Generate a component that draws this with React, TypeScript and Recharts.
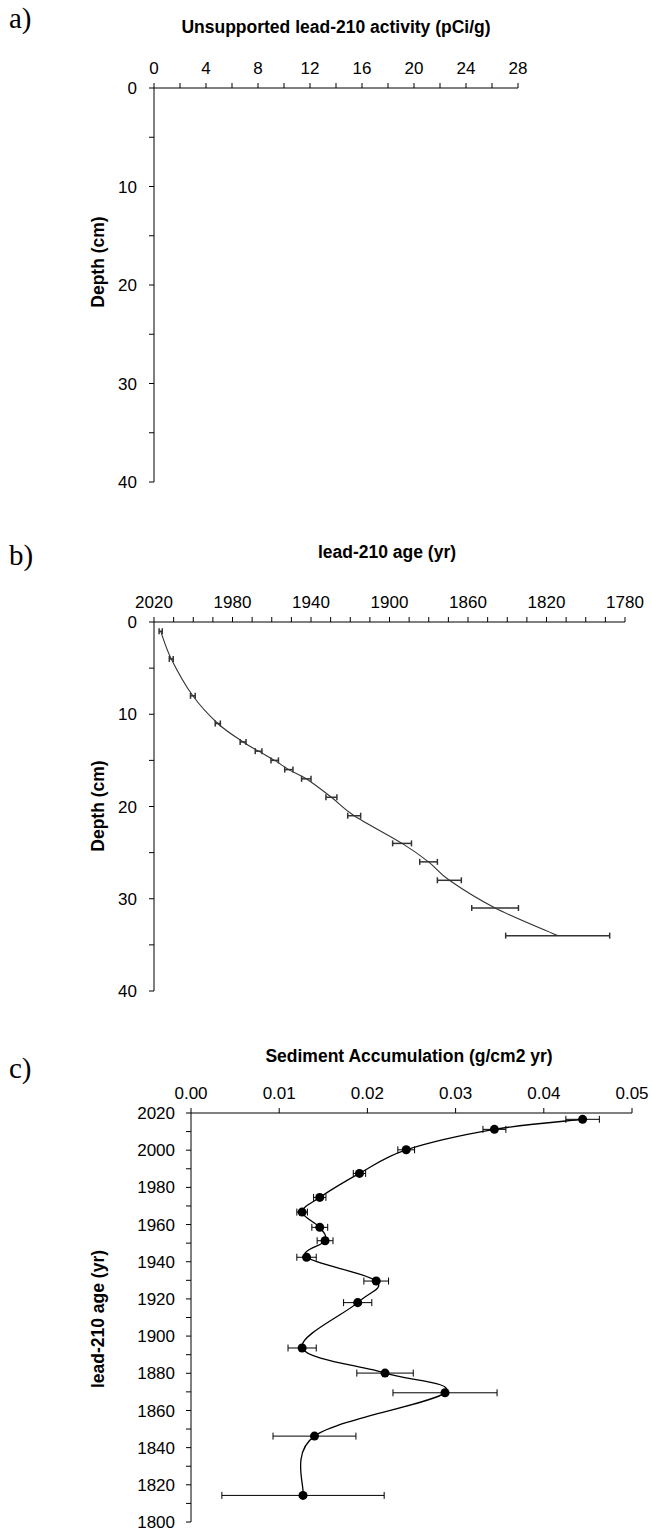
import React from 'react';
import { ScatterChart, Scatter, XAxis, YAxis, ErrorBar } from 'recharts';

// lead-210 ages of the core slices (yr), shared by panels b and c
const ages = [2016.6, 2011.2, 2000.2, 1987.5, 1974.6, 1966.7, 1958.5, 1951.3, 1942.4, 1929.6, 1918.0, 1893.6, 1880.1, 1869.5, 1846.2, 1814.3];
const depths = [1, 4, 8, 11, 13, 14, 15, 16, 17, 19, 21, 24, 26, 28, 31, 34];
const ageErr = [0.8, 1, 1.2, 1.3, 1.5, 1.7, 1.9, 2.1, 2.4, 2.8, 3.3, 4.8, 4.5, 6.1, 11.9, 26.5];
const rates = [0.0444, 0.0344, 0.0244, 0.0191, 0.0146, 0.0126, 0.0146, 0.0152, 0.0131, 0.021, 0.0189, 0.0126, 0.022, 0.0288, 0.014, 0.0127];
const rateErr = [0.0019, 0.0013, 0.00095, 0.0007, 0.0007, 0.0006, 0.0009, 0.0009, 0.0011, 0.0014, 0.0016, 0.0016, 0.0032, 0.0059, 0.0047, 0.0092];
// panel a has no measured activity values plotted
const activity: (number | null)[] = [];

// axis ticks
const activityTicks = [0, 2, 4, 6, 8, 10, 12, 14, 16, 18, 20, 22, 24, 26, 28];
const activityLabels = [0, 4, 8, 12, 16, 20, 24, 28];
const depthTicks = [0, 5, 10, 15, 20, 25, 30, 35, 40];
const depthLabels = [0, 10, 20, 30, 40];
const ageTicks = [1780, 1790, 1800, 1810, 1820, 1830, 1840, 1850, 1860, 1870, 1880, 1890, 1900, 1910, 1920, 1930, 1940, 1950, 1960, 1970, 1980, 1990, 2000, 2010, 2020];
const ageLabels = [2020, 1980, 1940, 1900, 1860, 1820, 1780];
const rateTicks = [0, 0.01, 0.02, 0.03, 0.04, 0.05];
const yearTicks = [1800, 1810, 1820, 1830, 1840, 1850, 1860, 1870, 1880, 1890, 1900, 1910, 1920, 1930, 1940, 1950, 1960, 1970, 1980, 1990, 2000, 2010, 2020];
const yearLabels = [1800, 1820, 1840, 1860, 1880, 1900, 1920, 1940, 1960, 1980, 2000, 2020];

const FONT = '"Liberation Sans", Arial, sans-serif';
const TICK_SIZE = 17;

const ageDepth = ages.map((age, i) => ({ age, depth: depths[i], err: ageErr[i] }));
const rateAge = ages.map((age, i) => ({ rate: rates[i], age, err: rateErr[i] }));
const activityDepth = depths.map((depth, i) => ({ depth, activity: activity[i] ?? null }));

// Excel-like smoothed line (Catmull-Rom as cubic Bezier)
function smoothCurve(context: any) {
  let pts: number[][] = [];
  return {
    areaStart() {},
    areaEnd() {},
    lineStart() {
      pts = [];
    },
    point(x: number, y: number) {
      pts.push([+x, +y]);
    },
    lineEnd() {
      if (!pts.length) return;
      context.moveTo(pts[0][0], pts[0][1]);
      for (let i = 0; i < pts.length - 1; i++) {
        const p0 = pts[i - 1] || pts[i];
        const p1 = pts[i];
        const p2 = pts[i + 1];
        const p3 = pts[i + 2] || p2;
        context.bezierCurveTo(
          p1[0] + (p2[0] - p0[0]) / 6,
          p1[1] + (p2[1] - p0[1]) / 6,
          p2[0] - (p3[0] - p1[0]) / 6,
          p2[1] - (p3[1] - p1[1]) / 6,
          p2[0],
          p2[1],
        );
      }
    },
  };
}

const isLabel = (labels: number[], v: number) => labels.some((l) => Math.abs(l - v) < 1e-9);

const topTick = (labels: number[], fmt: (v: number) => string) => (props: any) => {
  const { x, y, payload } = props;
  if (!isLabel(labels, payload.value)) return <g />;
  return (
    <text x={x} y={y} textAnchor="middle" fontSize={TICK_SIZE} fontFamily={FONT} fill="#000">
      {fmt(payload.value)}
    </text>
  );
};

const leftTick = (labels: number[]) => (props: any) => {
  const { x, y, payload } = props;
  if (!isLabel(labels, payload.value)) return <g />;
  return (
    <text x={x} y={y} dy="0.36em" textAnchor="end" fontSize={TICK_SIZE} fontFamily={FONT} fill="#000">
      {payload.value}
    </text>
  );
};

const axisStyle = { stroke: '#000', strokeWidth: 1 };

function Text({ x, y, text, rotate, size = 17.5 }: any) {
  return (
    <div
      style={{
        position: 'absolute',
        left: x,
        top: y,
        transform: `translate(-50%, -50%)${rotate ? ' rotate(-90deg)' : ''}`,
        fontFamily: FONT,
        fontWeight: 'bold',
        fontSize: size,
        whiteSpace: 'nowrap',
        color: '#000',
      }}
    >
      {text}
    </div>
  );
}

function Letter({ y, text }: any) {
  return (
    <div
      style={{
        position: 'absolute',
        left: 9,
        top: y,
        fontFamily: '"Liberation Serif", "Times New Roman", serif',
        fontSize: 29,
        lineHeight: '29px',
        color: '#000',
      }}
    >
      {text}
    </div>
  );
}

export default function App() {
  return (
    <div style={{ position: 'absolute', left: 0, top: 0, width: 652, height: 1533, background: '#fff' }}>
      {/* a) */}
      <Letter y={4} text="a)" />
      <Text x={336} y={27} text="Unsupported lead-210 activity (pCi/g)" />
      <Text x={98} y={262} text="Depth (cm)" rotate />
      <div style={{ position: 'absolute', left: 0, top: 0 }}>
        <ScatterChart width={652} height={500} margin={{ top: 58, left: 114, right: 134, bottom: 18 }}>
          <XAxis
            type="number"
            dataKey="activity"
            orientation="top"
            domain={[0, 28]}
            allowDataOverflow
            ticks={activityTicks}
            interval={0}
            height={30}
            tickSize={5}
            tickMargin={9}
            axisLine={axisStyle}
            tickLine={axisStyle}
            tick={topTick(activityLabels, (v) => String(v))}
          />
          <YAxis
            type="number"
            dataKey="depth"
            domain={[0, 40]}
            allowDataOverflow
            reversed
            ticks={depthTicks}
            interval={0}
            width={40}
            tickSize={5}
            tickMargin={12}
            axisLine={axisStyle}
            tickLine={axisStyle}
            tick={leftTick(depthLabels)}
          />
          <Scatter data={activityDepth} isAnimationActive={false} shape={() => <g />} />
        </ScatterChart>
      </div>

      {/* b) */}
      <Letter y={541} text="b)" />
      <Text x={387} y={552} text="lead-210 age (yr)" />
      <Text x={98} y={806} text="Depth (cm)" rotate />
      <div style={{ position: 'absolute', left: 0, top: 520 }}>
        <ScatterChart width={652} height={490} margin={{ top: 72, left: 114, right: 27, bottom: 19 }}>
          <XAxis
            type="number"
            dataKey="age"
            orientation="top"
            domain={[1780, 2020]}
            reversed
            ticks={ageTicks}
            interval={0}
            height={30}
            tickSize={5}
            tickMargin={9}
            axisLine={axisStyle}
            tickLine={axisStyle}
            tick={topTick(ageLabels, (v) => String(v))}
          />
          <YAxis
            type="number"
            dataKey="depth"
            domain={[0, 40]}
            reversed
            ticks={depthTicks}
            interval={0}
            width={40}
            tickSize={5}
            tickMargin={12}
            axisLine={axisStyle}
            tickLine={axisStyle}
            tick={leftTick(depthLabels)}
          />
          <Scatter
            data={ageDepth}
            isAnimationActive={false}
            line={{ stroke: '#333', strokeWidth: 1.1, fill: 'none' }}
            lineJointType={smoothCurve as any}
            shape={() => <g />}
          >
            <ErrorBar dataKey="err" direction="x" width={3} stroke="#333" strokeWidth={1.5} />
          </Scatter>
        </ScatterChart>
      </div>

      {/* c) */}
      <Letter y={1054} text="c)" />
      <Text x={409} y={1056} text="Sediment Accumulation (g/cm2 yr)" />
      <Text x={98} y={1319} text="lead-210 age (yr)" rotate />
      <div style={{ position: 'absolute', left: 0, top: 1030 }}>
        <ScatterChart width={652} height={503} margin={{ top: 53, left: 151, right: 20, bottom: 11 }}>
          <XAxis
            type="number"
            dataKey="rate"
            orientation="top"
            domain={[0, 0.05]}
            ticks={rateTicks}
            interval={0}
            height={30}
            tickSize={5}
            tickMargin={9}
            axisLine={axisStyle}
            tickLine={axisStyle}
            tick={topTick(rateTicks, (v) => v.toFixed(2))}
          />
          <YAxis
            type="number"
            dataKey="age"
            domain={[1800, 2020]}
            ticks={yearTicks}
            interval={0}
            width={40}
            tickSize={5}
            tickMargin={11}
            axisLine={axisStyle}
            tickLine={axisStyle}
            tick={leftTick(yearLabels)}
          />
          <Scatter
            data={rateAge}
            isAnimationActive={false}
            fill="#000"
            line={{ stroke: '#000', strokeWidth: 1.3, fill: 'none' }}
            lineJointType={smoothCurve as any}
          >
            <ErrorBar dataKey="err" direction="x" width={3.5} stroke="#000" strokeWidth={1} />
          </Scatter>
        </ScatterChart>
      </div>
    </div>
  );
}
